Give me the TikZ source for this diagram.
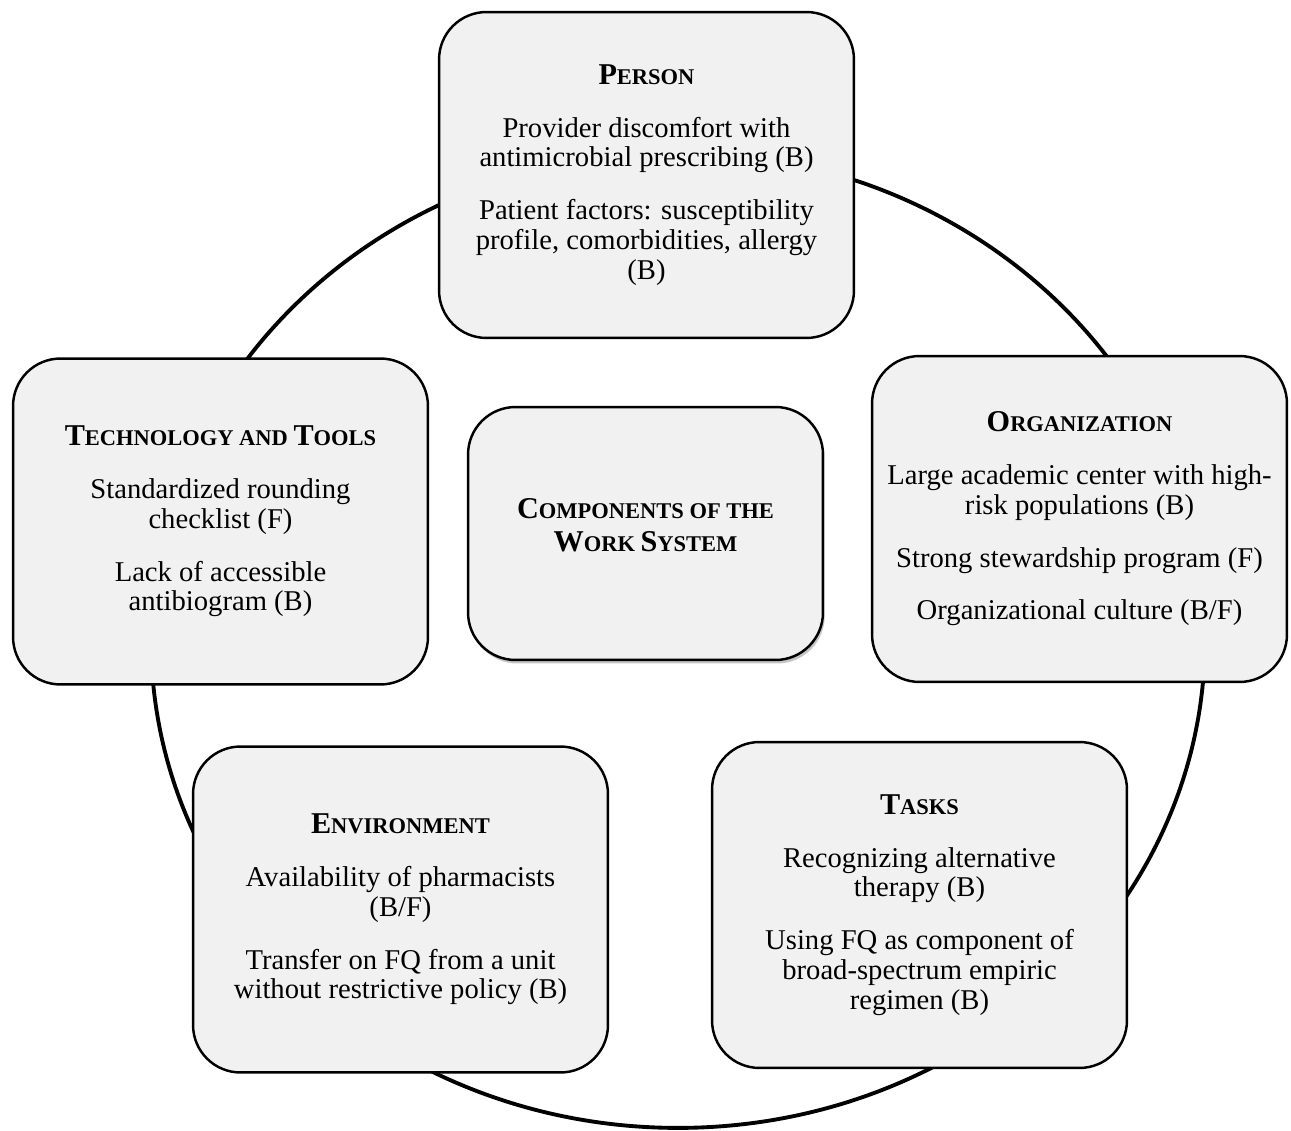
\documentclass[tikz,border=0pt]{standalone}
\usepackage{fontspec}
\setmainfont{Liberation Serif}
\usepackage{xcolor}
\usetikzlibrary{shadows}
\definecolor{boxgray}{HTML}{F1F1F1}
% small caps made by hand: big first letter, smaller capitals after it
\newcommand{\capsc}[2]{{\fontsize{17.2}{17}\selectfont #1}{\fontsize{12.8}{17}\selectfont #2}}

\tikzset{
  wsbox/.style={draw=black, line width=1.4pt, fill=boxgray, rounded corners=0.95cm,
    minimum width=8.3cm, minimum height=6.52cm, align=center, inner sep=0pt,
    font=\fontsize{16.3}{17}\selectfont},
  hubbox/.style={wsbox, minimum width=7.1cm, minimum height=5.06cm,
    drop shadow={shadow xshift=1pt, shadow yshift=-2pt, fill=black!45}},
  ring/.style={line width=2.2pt}
}

\begin{document}
\begin{tikzpicture}[x=0.02cm, y=-0.02cm]
\useasboundingbox (0,0) rectangle (1291,1131);
%\draw[step=50,gray,very thin] (0,0) grid (1291,1131); %background grid
\coordinate (mid) at (678,640);
\draw[ring] (mid) ellipse [x radius=10.54cm, y radius=9.76cm];

\node[wsbox] (person) at (646.5,175) {\textbf{\capsc{P}{ERSON}}\\[13pt]
  Provider discomfort with\\ antimicrobial prescribing (B)\\[13pt]
  Patient factors: susceptibility\\ profile, comorbidities, allergy\\ (B)};
\node[wsbox] (tech) at (220.5,521.5) {\textbf{\capsc{T}{ECHNOLOGY AND }\capsc{T}{OOLS}}\\[13pt]
  Standardized rounding\\ checklist (F)\\[13pt]
  Lack of accessible\\ antibiogram (B)};
\node[wsbox] (org) at (1079.5,519) {\textbf{\capsc{O}{RGANIZATION}}\\[13pt]
  Large academic center with high-\\ risk populations (B)\\[13pt]
  Strong stewardship program (F)\\[13pt]
  Organizational culture (B/F)};
\node[wsbox] (env) at (400.5,909.5) {\textbf{\capsc{E}{NVIRONMENT}}\\[13pt]
  Availability of pharmacists\\ (B/F)\\[13pt]
  Transfer on FQ from a unit\\ without restrictive policy (B)};
\node[wsbox] (tasks) at (919.5,905) {\textbf{\capsc{T}{ASKS}}\\[13pt]
  Recognizing alternative\\ therapy (B)\\[13pt]
  Using FQ as component of\\ broad-spectrum empiric\\ regimen (B)};

\node[hubbox] (hub) at (645.5,533.5) {};
\node[align=center, font=\fontsize{16.3}{19}\selectfont] (hubtitle) at ([yshift=4.8pt]hub.center)
  {\textbf{\capsc{C}{OMPONENTS OF THE}}\\ \textbf{\capsc{W}{ORK }\capsc{S}{YSTEM}}};
\end{tikzpicture}
\end{document}
